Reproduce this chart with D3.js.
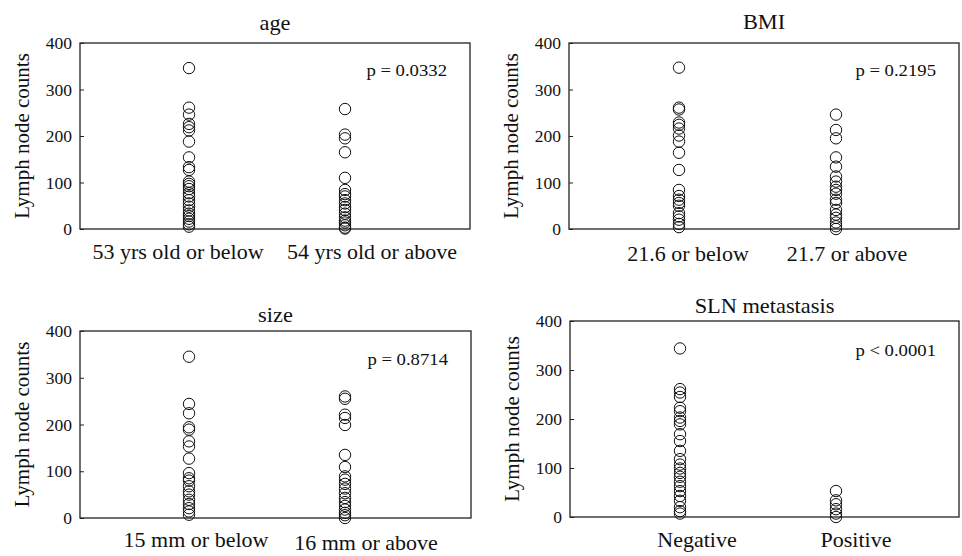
<!DOCTYPE html>
<html>
<head>
<meta charset="utf-8">
<script src="https://cdn.jsdelivr.net/npm/d3@7"></script>
<style>
body{margin:0;background:#fff;}
svg text{font-family:"Liberation Serif","DejaVu Serif",serif;fill:#111;}
</style>
</head>
<body>
<svg width="962" height="556"></svg>
<script>
// lymph node counts
var titles = ['age', 'BMI', 'size', 'SLN metastasis'];
var pValues = ['p = 0.0332', 'p = 0.2195', 'p = 0.8714', 'p < 0.0001'];
var groupLabels = [
    ['53 yrs old or below', '54 yrs old or above'],
    ['21.6 or below', '21.7 or above'],
    ['15 mm or below', '16 mm or above'],
    ['Negative', 'Positive']
];
var ageLow = [346, 261, 246, 226, 219, 212, 188, 154, 133, 127, 102, 97, 92, 86, 77, 70, 62, 55, 48, 40, 33, 28, 22, 16, 10, 5];
var ageHigh = [258, 203, 195, 165, 110, 84, 75, 70, 62, 55, 47, 41, 33, 25, 18, 14, 8, 3, 1];
var bmiLow = [347, 261, 257, 229, 224, 216, 201, 188, 164, 127, 84, 71, 63, 56, 50, 34, 27, 20, 11, 4];
var bmiHigh = [246, 213, 195, 154, 134, 113, 102, 91, 84, 76, 63, 56, 41, 31, 24, 14, 6, 0];
var sizeLow = [345, 244, 224, 194, 189, 164, 153, 127, 96, 85, 80, 68, 57, 50, 39, 30, 21, 14, 7];
var sizeHigh = [260, 255, 221, 214, 199, 135, 109, 89, 82, 73, 63, 53, 43, 34, 26, 18, 11, 6, 0];
var slnNeg = [344, 261, 254, 245, 223, 216, 203, 196, 189, 169, 155, 135, 118, 107, 99, 90, 82, 72, 63, 53, 43, 33, 20, 12, 7];
var slnPos = [53, 34, 26, 16, 7, 0];
var yTicks = [0, 100, 200, 300, 400];

var series = [[ageLow, ageHigh], [bmiLow, bmiHigh], [sizeLow, sizeHigh], [slnNeg, slnPos]];

// panel frames and where the two groups and their labels sit
var panels = [
    {l:80, t:43, r:470, b:229, px:[189, 345], lx:[178, 372], ly:[259, 259], ty:30},
    {l:569, t:43, r:959, b:229, px:[679, 836], lx:[688, 847], ly:[261, 261], ty:29},
    {l:80, t:331, r:471, b:518, px:[189, 345], lx:[196, 366], ly:[547, 550], ty:322},
    {l:570, t:321, r:959, b:517, px:[680, 836], lx:[697, 856], ly:[547, 547], ty:313}
];

var svg = d3.select('svg');

// text in the original is a bit wider than it is tall
function wideText(g, x, y, size, sx, anchor, str){
    return g.append('text')
        .attr('transform', 'translate(' + x + ',' + y + ') scale(' + sx + ',1)')
        .attr('text-anchor', anchor)
        .style('font-size', size + 'px')
        .text(str);
}

panels.forEach(function(p, i){
    var g = svg.append('g');
    var y = d3.scaleLinear().domain([0, 400]).range([p.b, p.t]);
    var x = d3.scalePoint().domain([0, 1]).range(p.px);

    g.append('rect')
        .attr('x', p.l).attr('y', p.t)
        .attr('width', p.r - p.l).attr('height', p.b - p.t)
        .attr('fill', 'none').attr('stroke', '#222').attr('stroke-width', 1.3);

    var axis = d3.axisLeft(y).tickValues(yTicks).tickSizeInner(-4).tickSizeOuter(0).tickPadding(8);
    var ax = g.append('g').attr('transform', 'translate(' + p.l + ',0)').call(axis);
    ax.select('.domain').remove();
    ax.selectAll('line').attr('stroke', '#222');
    ax.selectAll('text')
        .style('font-family', '"Liberation Serif", serif')
        .style('font-size', '17.5px').attr('fill', '#111');

    g.append('text')
        .attr('transform', 'translate(' + (p.l - 51) + ',' + ((p.t + p.b) / 2) + ') rotate(-90)')
        .attr('text-anchor', 'middle')
        .style('font-size', '21px')
        .text('Lymph node counts');

    wideText(g, (p.l + p.r) / 2, p.ty, 21.5, 1.04, 'middle', titles[i]);

    wideText(g, p.r - 23, y(328), 17, 1.1, 'end', pValues[i]);

    groupLabels[i].forEach(function(lab, k){
        wideText(g, p.lx[k], p.ly[k], 20, 1.1, 'middle', lab);
    });

    series[i].forEach(function(vals, k){
        g.selectAll(null)
            .data(vals)
            .enter().append('circle')
            .attr('cx', x(k))
            .attr('cy', function(d){ return y(d); })
            .attr('r', 5.7)
            .attr('fill', 'none')
            .attr('stroke', '#111')
            .attr('stroke-width', 1);
    });
});
</script>
</body>
</html>
